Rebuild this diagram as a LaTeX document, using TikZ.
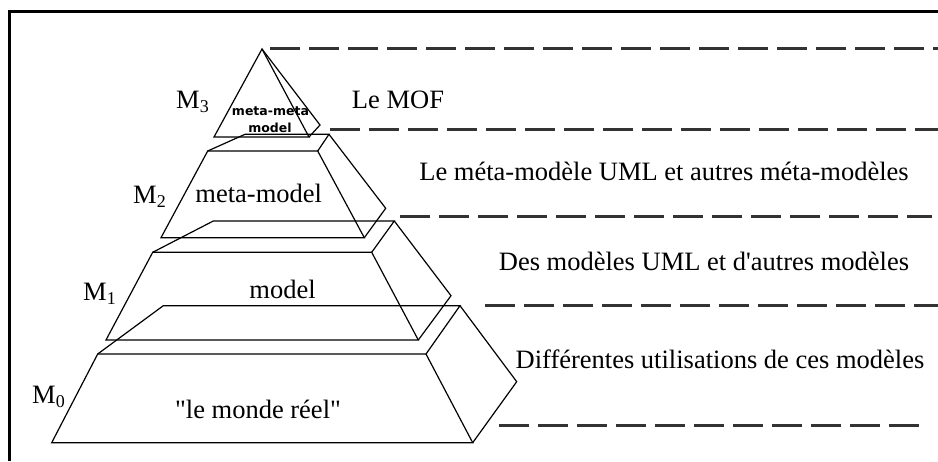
\documentclass[tikz,border=0pt]{standalone}
\usepackage{fontspec}
\setmainfont{Liberation Serif}[Ligatures=TeXOff]
\newfontfamily\comic{DejaVu Sans}
\begin{document}
\begin{tikzpicture}[x=1pt,y=-1pt,
  edge/.style={line width=1.2pt, line join=miter},
  sep/.style={line width=3pt, dash pattern=on 30pt off 9pt, draw=black!80},
  big/.style={font=\fontsize{26.5}{30}\selectfont, inner sep=0pt, anchor=base},
  lvl/.style={font=\fontsize{26.5}{30}\selectfont, inner sep=0pt, anchor=base west},
  small/.style={font=\comic\bfseries\fontsize{12.5}{14}\selectfont, inner sep=0pt, anchor=base}]
\useasboundingbox (0,0) rectangle (938,461);
% frame
\coordinate (fb) at (9,461); \coordinate (fc) at (9,11); \coordinate (fr) at (938,11);
\draw[line width=3pt] (fb) -- (fc) -- (fr);
% M3 pyramid
\coordinate (a3) at (262,49); \coordinate (l3) at (214,137);
\coordinate (r3) at (309,137); \coordinate (s3) at (320,125);
\draw[edge] (l3) -- (a3) -- (r3) -- cycle;
\draw[edge] (a3) -- (s3) -- (r3);
% M2
\coordinate (ftl2) at (207.7,151); \coordinate (ftr2) at (317.7,151);
\coordinate (fbl2) at (161,237.7); \coordinate (fbr2) at (364.3,237.7);
\coordinate (btl2) at (245,134.3); \coordinate (btr2) at (329,134.3);
\coordinate (sp2) at (385.7,208.3);
\draw[edge] (ftl2) -- (ftr2) -- (fbr2) -- (fbl2) -- cycle;
\draw[edge] (ftl2) -- (btl2) -- (btr2) -- (ftr2);
\draw[edge] (btr2) -- (sp2) -- (fbr2);
% M1
\coordinate (ftl1) at (152.7,252.3); \coordinate (ftr1) at (371.7,252.3);
\coordinate (fbl1) at (106,340); \coordinate (fbr1) at (418.3,340);
\coordinate (btl1) at (213.3,221); \coordinate (btr1) at (394.3,221);
\coordinate (sp1) at (451,295.7);
\draw[edge] (ftl1) -- (ftr1) -- (fbr1) -- (fbl1) -- cycle;
\draw[edge] (ftl1) -- (btl1) -- (btr1) -- (ftr1);
\draw[edge] (btr1) -- (sp1) -- (fbr1);
% M0
\coordinate (ftl0) at (97.7,354); \coordinate (ftr0) at (426,354);
\coordinate (fbl0) at (51.7,442.7); \coordinate (fbr0) at (472.7,442.7);
\coordinate (btl0) at (163.3,305.7); \coordinate (btr0) at (460,305.7);
\coordinate (sp0) at (516.7,381.7);
\draw[edge] (ftl0) -- (ftr0) -- (fbr0) -- (fbl0) -- cycle;
\draw[edge] (ftl0) -- (btl0) -- (btr0) -- (ftr0);
\draw[edge] (btr0) -- (sp0) -- (fbr0);
% dashed separators
\coordinate (d1a) at (270,48); \coordinate (d1b) at (938,48);
\coordinate (d2a) at (330,129); \coordinate (d2b) at (938,129);
\coordinate (d3a) at (400,216); \coordinate (d3b) at (932,216);
\coordinate (d4a) at (485,305); \coordinate (d4b) at (938,305);
\coordinate (d5a) at (499,425); \coordinate (d5b) at (927,425);
\draw[sep] (d1a) -- (d1b);
\draw[sep] (d2a) -- (d2b);
\draw[sep] (d3a) -- (d3b);
\draw[sep] (d4a) -- (d4b);
\draw[sep] (d5a) -- (d5b);
% level labels
\node[lvl] (m3) at (176,108) {M\raisebox{-4pt}{\fontsize{18}{20}\selectfont 3}};
\node[lvl] (m2) at (133,203) {M\raisebox{-4pt}{\fontsize{18}{20}\selectfont 2}};
\node[lvl] (m1) at (83,300) {M\raisebox{-4pt}{\fontsize{18}{20}\selectfont 1}};
\node[lvl] (m0) at (32,403) {M\raisebox{-4pt}{\fontsize{18}{20}\selectfont 0}};
% inside texts
\node[small] (mm1) at (270.5,115) {meta-meta};
\node[small] (mm2) at (270,132) {model};
\node[big] (mmod) at (258.7,202.7) {meta-model};
\node[big] (mod) at (282.5,298) {model};
\node[big] (real) at (258,418) {"le monde réel"};
% right texts
\node[big] (t3) at (398,108) {Le MOF};
\node[big] (t2) at (664,180) {Le méta-modèle UML et autres méta-modèles};
\node[big] (t1) at (704,270) {Des modèles UML et d'autres modèles};
\node[big] (t0) at (720,368) {Différentes utilisations de ces modèles};
\end{tikzpicture}
\end{document}
